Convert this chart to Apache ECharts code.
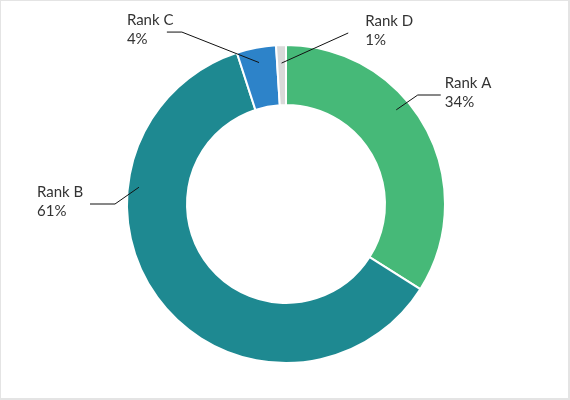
<!DOCTYPE html>
<html>
<head>
<meta charset="utf-8">
<script src="https://cdn.jsdelivr.net/npm/echarts@6/dist/echarts.min.js"></script>
<style>
    html, body { margin: 0; padding: 0; background: #e4e4e4; }
    #container { position: absolute; left: 1px; top: 1px; width: 567px; height: 397px; background: #fff; }
</style>
</head>
<body>
<div id="container"></div>
<script>

var rankNames = ['Rank A', 'Rank B', 'Rank C', 'Rank D'];
var rankShares = [34, 61, 4, 1];
var rankColors = ['#46b978', '#1e8991', '#2d83c9', '#d9d9d9'];

var cx = 285, cy = 203;

function polar(angle, r) {
    var a = angle * Math.PI / 180;
    return [cx + r * Math.sin(a), cy - r * Math.cos(a)];
}

// where each label sits: start of line, bend, horizontal run, text offset
var labelGuides = [
    { start: [49.5, 145], bend: [50.4, 171], run: 23, textGap: 4 },
    { start: [276.5, 148], bend: [270, 171], run: -25, textGap: -53 },
    { start: [349.2, 144], bend: [328.8, 201], run: -15, textGap: -40 },
    { start: [358.2, 141], bend: [20, 182], run: 0, textGap: 17 }
];

var ExpenseDom = document.getElementById('container');
var myChart = echarts.init(ExpenseDom, null, { renderer: 'canvas' });

var pieData = rankNames.map(function (name, i) {
    return { name: name, value: rankShares[i], itemStyle: { color: rankColors[i] } };
});

var labelData = rankNames.map(function (name, i) {
    return { name: name, value: rankShares[i] };
});

var option = {
    animation: false,
    series: [
        {
            type: 'pie',
            z: 2,
            center: [cx, cy],
            radius: [99, 159],
            startAngle: 90,
            clockwise: true,
            silent: true,
            itemStyle: {
                borderColor: '#fff',
                borderWidth: 2
            },
            label: { show: false },
            labelLine: { show: false },
            data: pieData
        },
        {
            // same slices again, invisible, only to carry labels above the ring
            type: 'pie',
            z: 3,
            center: [cx, cy],
            radius: [99, 159],
            startAngle: 90,
            clockwise: true,
            silent: true,
            percentPrecision: 0,
            avoidLabelOverlap: false,
            itemStyle: { color: 'rgba(0,0,0,0)', borderWidth: 0 },
            label: {
                show: true,
                formatter: '{b}\n{d}%',
                fontFamily: 'Lato',
                fontSize: 15,
                lineHeight: 19,
                color: '#333'
            },
            labelLine: {
                show: true,
                lineStyle: { color: '#111', width: 1 }
            },
            labelLayout: function (params) {
                var g = labelGuides[params.dataIndex];
                var p0 = polar(g.start[0], g.start[1]);
                var p1 = polar(g.bend[0], g.bend[1]);
                var p2 = [p1[0] + g.run, p1[1]];
                return {
                    x: p2[0] + g.textGap,
                    y: p1[1] - 2,
                    align: 'left',
                    verticalAlign: 'middle',
                    labelLinePoints: [p0, p1, p2]
                };
            },
            data: labelData
        }
    ]
};

myChart.setOption(option);
window.addEventListener('resize', myChart.resize);
</script>
</body>
</html>
